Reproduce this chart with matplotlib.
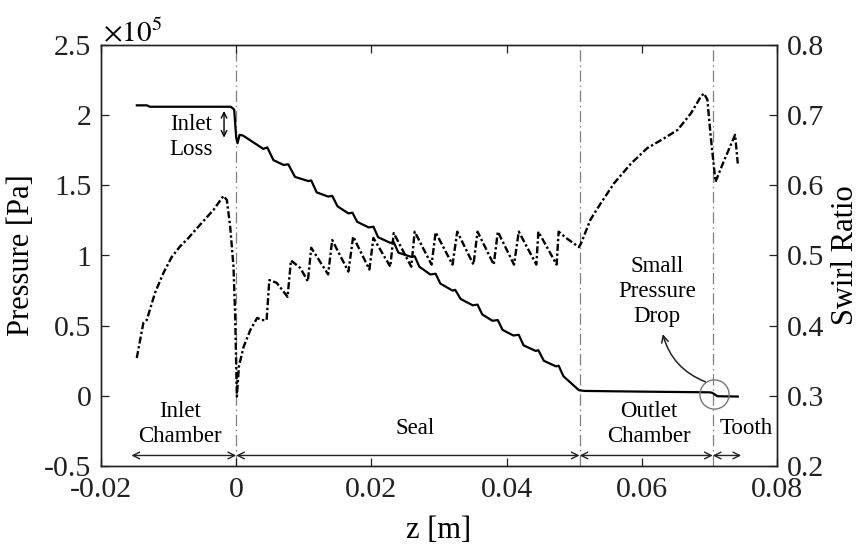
import matplotlib
matplotlib.use('Agg')
import matplotlib.pyplot as plt

plt.rcParams['font.family'] = ['Liberation Serif', 'DejaVu Serif']
plt.rcParams['mathtext.fontset'] = 'stix'

# ---------------- data ----------------
# pressure curve: axial position z [m], pressure [x1e5 Pa]
p_z = [-0.0147, -0.0132, -0.0128, -0.0008, -0.0003, 0.0000, 0.0002, 0.0005, 0.0010,
       0.0040, 0.0046, 0.0055,
       0.0070, 0.0077, 0.0087,
       0.0107, 0.0111, 0.0119,
       0.0136, 0.0142, 0.0150,
       0.0166, 0.0172, 0.0179,
       0.0196, 0.0203, 0.0210,
       0.0228, 0.0233, 0.0240,
       0.0259, 0.0264, 0.0271,
       0.0287, 0.0295, 0.0302,
       0.0320, 0.0324, 0.0332,
       0.0350, 0.0357, 0.0364,
       0.0379, 0.0387, 0.0394,
       0.0410, 0.0418, 0.0425,
       0.0443, 0.0447, 0.0455,
       0.0473, 0.0477, 0.0484,
       0.0507, 0.0515, 0.0600, 0.0700, 0.0704, 0.0712, 0.0742]
p_val = [2.07, 2.07, 2.06, 2.06, 2.04, 1.84, 1.80, 1.86, 1.855,
         1.76, 1.77, 1.68,
         1.645, 1.65, 1.56,
         1.53, 1.535, 1.45,
         1.42, 1.425, 1.35,
         1.30, 1.305, 1.24,
         1.20, 1.205, 1.13,
         1.09, 1.095, 1.02,
         0.99, 0.995, 0.92,
         0.865, 0.87, 0.80,
         0.75, 0.755, 0.69,
         0.645, 0.65, 0.58,
         0.535, 0.54, 0.47,
         0.43, 0.435, 0.36,
         0.32, 0.325, 0.25,
         0.21, 0.215, 0.14,
         0.04, 0.035, 0.03, 0.025, 0.022, -0.003, -0.005]

# swirl ratio curve
s_z = [-0.01471, -0.01373, -0.01323, -0.0120, -0.01077, -0.00953, -0.0083, -0.00707,
       -0.00533, -0.00336, -0.00188, -0.00138, -0.00089, -0.0004, -0.00015, 0.0001,
       0.0004, 0.0011, 0.0021, 0.0031, 0.0038, 0.0045,
       0.0049, 0.0060, 0.0076,
       0.0081, 0.0095, 0.0106,
       0.0111, 0.0136,
       0.0142, 0.0166,
       0.0173, 0.0197,
       0.0203, 0.0228,
       0.0233, 0.0259,
       0.0264, 0.0289,
       0.0295, 0.0320,
       0.0327, 0.0351,
       0.0357, 0.0381,
       0.0387, 0.0411,
       0.0418, 0.0444,
       0.0447, 0.0474,
       0.0477, 0.0488, 0.0507,
       0.0510, 0.0524, 0.0539, 0.0559, 0.0584, 0.0608, 0.0633, 0.0653, 0.0673,
       0.0687, 0.0692, 0.0697, 0.0702, 0.0709, 0.0722, 0.0738, 0.0742]
s_val = [0.354, 0.404, 0.408, 0.447, 0.475, 0.498, 0.513, 0.525,
         0.544, 0.565, 0.585, 0.579, 0.541, 0.484, 0.413, 0.299,
         0.342, 0.370, 0.394, 0.411, 0.408, 0.408,
         0.465, 0.461, 0.441,
         0.493, 0.482, 0.463,
         0.511, 0.473,
         0.522, 0.477,
         0.527, 0.480,
         0.525, 0.484,
         0.532, 0.484,
         0.534, 0.487,
         0.533, 0.487,
         0.534, 0.487,
         0.534, 0.487,
         0.534, 0.487,
         0.534, 0.487,
         0.534, 0.487,
         0.534, 0.525, 0.512,
         0.517, 0.551, 0.574, 0.603, 0.631, 0.653, 0.667, 0.679, 0.703,
         0.726, 0.731, 0.722, 0.669, 0.605, 0.636, 0.672, 0.631]

boundaries = [0.0, 0.0508, 0.0705]
region_names = ['Inlet\nChamber', 'Seal', 'Outlet\nChamber', 'Tooth']
region_spans = [(-0.0155, 0.0), (0.0, 0.0508), (0.0508, 0.0705), (0.0705, 0.0747)]
region_label_pos = [(-0.0083, -0.20), (0.0264, -0.235), (0.0610, -0.20), (0.0754, -0.235)]

x_ticks = [-0.02, 0, 0.02, 0.04, 0.06, 0.08]
x_ticklabels = ['-0.02', '0', '0.02', '0.04', '0.06', '0.08']
p_ticks = [-0.5, 0, 0.5, 1, 1.5, 2, 2.5]
p_ticklabels = ['-0.5', '0', '0.5', '1', '1.5', '2', '2.5']
s_ticks = [0.2, 0.3, 0.4, 0.5, 0.6, 0.7, 0.8]
s_ticklabels = ['0.2', '0.3', '0.4', '0.5', '0.6', '0.7', '0.8']

# ---------------- figure ----------------
fig = plt.figure(figsize=(8.59, 5.46), dpi=100)
ax = fig.add_axes([101/859, 80/546, 676/859, 421/546])
ax2 = ax.twinx()

TICK_FS = 21.5
LABEL_FS = 22
ANN_FS = 16.5

ax.plot(p_z, p_val, color='black', lw=1.6, solid_joinstyle='round', zorder=4)
ax2.plot(s_z, s_val, color='black', lw=1.7, linestyle=(0, (3, 1.1, 1, 1.1)), zorder=4)

for b in boundaries:
    ax.axvline(b, color='#808080', lw=0.9, linestyle=(0, (9, 3, 1.2, 3)), zorder=1)

ax.set_xlim(-0.02, 0.08)
ax.set_ylim(-0.5, 2.5)
ax2.set_ylim(0.2, 0.8)

ax.set_xticks(x_ticks)
ax.set_xticklabels(x_ticklabels, fontsize=TICK_FS)
ax.set_yticks(p_ticks)
ax.set_yticklabels(p_ticklabels, fontsize=TICK_FS)
ax2.set_yticks(s_ticks)
ax2.set_yticklabels(s_ticklabels, fontsize=TICK_FS)

ax.tick_params(axis='x', direction='in', top=True, length=6, width=0.9, pad=8, colors='#222222')
ax.tick_params(axis='y', direction='in', left=True, right=False, length=6, width=0.9, pad=7, colors='#222222')
ax2.tick_params(axis='y', direction='in', right=True, left=False, length=6, width=0.9, pad=7, colors='#222222')
for a in (ax, ax2):
    for s in a.spines.values():
        s.set_linewidth(1.0)
        s.set_color('#222222')

ax.set_xlabel('z [m]', fontsize=LABEL_FS, labelpad=9)
ax.set_ylabel('Pressure [Pa]', fontsize=LABEL_FS, labelpad=6)
ax2.set_ylabel('Swirl Ratio', fontsize=LABEL_FS, labelpad=5)

fig.text(103/859, 1 - 33/546, r'$\times 10^5$', fontsize=21, ha='left', va='center')

# region double arrows and labels
for (x0, x1) in region_spans:
    ax.annotate('', xy=(x1, -0.425), xytext=(x0, -0.425),
                arrowprops=dict(arrowstyle='<->', color='#222222', lw=1.0,
                                shrinkA=0, shrinkB=0, mutation_scale=12))
for name, (x, y) in zip(region_names, region_label_pos):
    ax.text(x, y, name, fontsize=ANN_FS, ha='center', va='center', linespacing=1.25)

# inlet loss
ax.annotate('', xy=(-0.0018, 2.03), xytext=(-0.0018, 1.84),
            arrowprops=dict(arrowstyle='<->', color='black', lw=1.0,
                            shrinkA=0, shrinkB=0, mutation_scale=10))
ax.text(-0.0067, 1.845, 'Inlet\nLoss', fontsize=ANN_FS, ha='center', va='center', linespacing=1.25)

# small pressure drop
ax.plot([0.0707], [0.01], marker='o', markersize=21, markerfacecolor='none',
        markeredgecolor='#777777', markeredgewidth=1.0, zorder=5)
ax.annotate('', xy=(0.0631, 0.44), xytext=(0.0694, 0.10),
            arrowprops=dict(arrowstyle='->', color='#222222', lw=1.1,
                            shrinkA=0, shrinkB=0, mutation_scale=12,
                            connectionstyle='arc3,rad=-0.25'))
ax.text(0.0622, 0.74, 'Small\nPressure\nDrop', fontsize=ANN_FS, ha='center', va='center', linespacing=1.25)

fig.savefig('out.png', dpi=100)
